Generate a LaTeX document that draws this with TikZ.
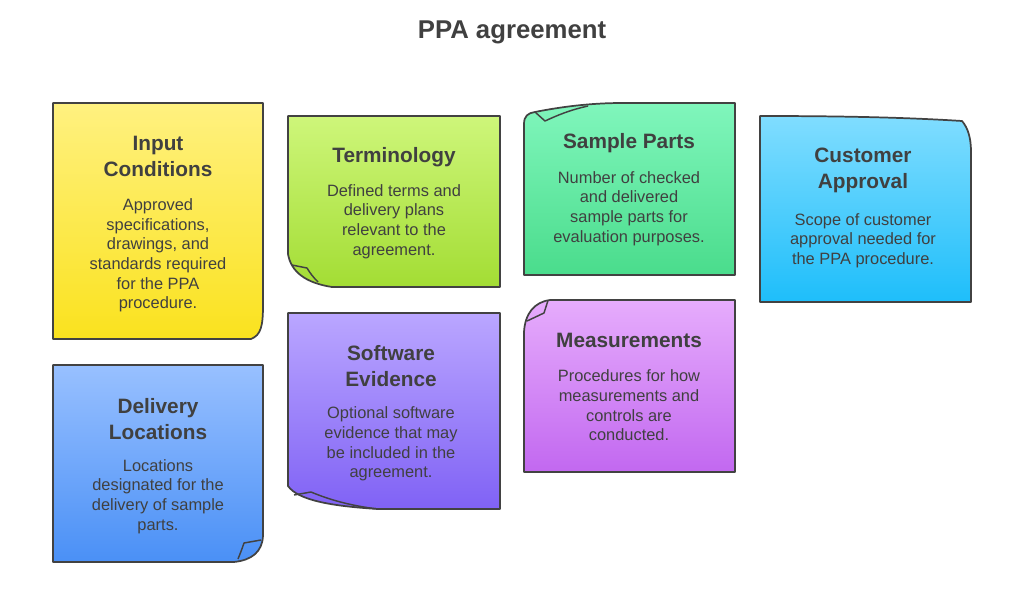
\documentclass[tikz,border=0pt]{standalone}
\usepackage{fontspec}
\setmainfont{Liberation Sans}
\usepackage{xcolor}
\usepackage{tikz}
\usetikzlibrary{positioning}

\definecolor{ink}{RGB}{64,64,64}
\definecolor{edge}{RGB}{66,66,66}
\definecolor{inputtop}{RGB}{255,241,128}
\definecolor{inputbot}{RGB}{250,226,30}
\definecolor{termtop}{RGB}{206,246,122}
\definecolor{termbot}{RGB}{163,221,52}
\definecolor{sampletop}{RGB}{128,246,188}
\definecolor{samplebot}{RGB}{74,220,140}
\definecolor{custtop}{RGB}{128,221,255}
\definecolor{custbot}{RGB}{30,190,250}
\definecolor{delivtop}{RGB}{152,192,255}
\definecolor{delivbot}{RGB}{74,144,246}
\definecolor{softtop}{RGB}{186,166,255}
\definecolor{softbot}{RGB}{128,98,245}
\definecolor{meastop}{RGB}{230,172,252}
\definecolor{measbot}{RGB}{194,104,240}

\tikzset{
  card/.style={draw=edge, line width=1.3pt, line join=round},
  fold/.style={draw=edge, line width=1.1pt, line join=round},
  head/.style={font=\bfseries\fontsize{15.6}{19.5}\selectfont, text=ink, align=center, inner sep=0pt},
  body/.style={font=\fontsize{12.3}{14.7}\selectfont, text=ink, align=center, inner sep=0pt},
}

\begin{document}
\begin{tikzpicture}[x=0.75pt, y=-0.75pt]
  \useasboundingbox (0,0) rectangle (1024,603);

  % Title
  \node[font=\bfseries\fontsize{19.3}{23}\selectfont, text=ink] (title) at (512,32) {PPA agreement};

  % Cards
  \shade[card, top color=inputtop, bottom color=inputbot]
    (53,103) -- (263,103) -- (263,305) .. controls (263,326) and (261,335) .. (251,339) -- (53,339) -- cycle;

  \shade[card, top color=termtop, bottom color=termbot]
    (288,116) -- (500,116) -- (500,287) -- (332,287) .. controls (306,283) and (291,272) .. (288,254) -- cycle;
  \draw[fold] (292,265) -- (307,268) .. controls (310,273) and (313,277) .. (318,282);

  \shade[card, top color=sampletop, bottom color=samplebot]
    (524,275) -- (524,124) .. controls (524,116) and (528,113) .. (535,112)
    .. controls (560,107) and (590,103) .. (622,103) -- (735,103) -- (735,275) -- cycle;
  \draw[fold] (535,112) -- (545,121) .. controls (558,115) and (570,110) .. (588,106);

  \shade[card, top color=custtop, bottom color=custbot]
    (760,116) .. controls (830,116) and (900,117) .. (962,121) .. controls (968,128) and (971,138) .. (971,152)
    -- (971,302) -- (760,302) -- cycle;

  \shade[card, top color=delivtop, bottom color=delivbot]
    (53,365) -- (263,365) -- (263,536) .. controls (262,552) and (252,560) .. (234,562) -- (53,562) -- cycle;
  \draw[fold] (261,540) -- (244,543) .. controls (242,549) and (240,554) .. (238,559);

  \shade[card, top color=softtop, bottom color=softbot]
    (288,313) -- (500,313) -- (500,509) -- (378,509) .. controls (330,506) and (298,500) .. (288,486) -- cycle;
  \draw[fold] (294,495) -- (311,492) .. controls (330,500) and (352,506) .. (378,509);

  \shade[card, top color=meastop, bottom color=measbot]
    (524,472) -- (524,332) .. controls (525,314) and (534,302) .. (550,300) -- (735,300) -- (735,472) -- cycle;
  \draw[fold] (527,321) -- (544,313) -- (548,300.5);

  % Texts
  \node[head] (inputhead) at (158,156) {Input\\Conditions};
  \node[body] (inputbody) at (158,255.5) {Approved\\specifications,\\drawings, and\\standards required\\for the PPA\\procedure.};

  \node[head] (termhead) at (394,157) {Terminology};
  \node[body] (termbody) at (394,221.5) {Defined terms and\\delivery plans\\relevant to the\\agreement.};

  \node[head] (samplehead) at (629,143) {Sample Parts};
  \node[body] (samplebody) at (629,208.5) {Number of checked\\and delivered\\sample parts for\\evaluation purposes.};

  \node[head] (custhead) at (863,170) {Customer\\Approval};
  \node[body] (custbody) at (863,240.5) {Scope of customer\\approval needed for\\the PPA procedure.};

  \node[head] (delivhead) at (158,419) {Delivery\\Locations};
  \node[body] (delivbody) at (158,496.5) {Locations\\designated for the\\delivery of sample\\parts.};

  \node[head] (softhead) at (391,366) {Software\\Evidence};
  \node[body] (softbody) at (391,444) {Optional software\\evidence that may\\be included in the\\agreement.};

  \node[head] (meashead) at (629,340) {Measurements};
  \node[body] (measbody) at (629,405.5) {Procedures for how\\measurements and\\controls are\\conducted.};
\end{tikzpicture}
\end{document}
